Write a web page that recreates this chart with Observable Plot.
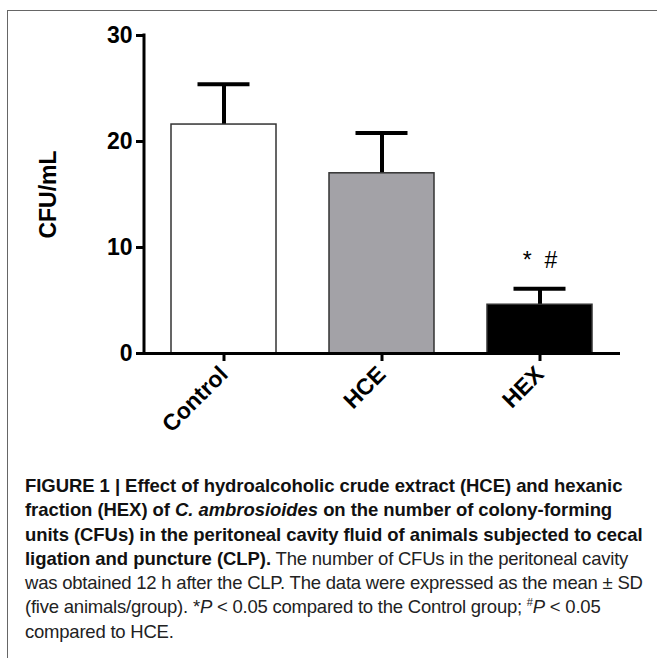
<!DOCTYPE html>
<html>
<head>
<meta charset="utf-8">
<script src="https://cdn.jsdelivr.net/npm/d3@7"></script>
<script src="https://cdn.jsdelivr.net/npm/@observablehq/plot@0.6"></script>
<style>
  html, body { margin: 0; padding: 0; background: #fff; }
  body { width: 657px; height: 658px; position: relative; overflow: hidden; font-family: "Liberation Sans", Arial, sans-serif; }
  #frame { position: absolute; left: 7px; top: 10px; right: -5px; bottom: -5px; border-left: 1.5px solid #666; border-top: 1.5px solid #666; }
  #chart { position: absolute; left: 0; top: 0; }
  #caption { position: absolute; left: 25px; top: 474px; font-size: 18.5px; line-height: 24.3px; color: #222; letter-spacing: -0.22px; }
  #caption div { white-space: nowrap; height: 24.3px; }
  #caption b { color: #111; letter-spacing: -0.06px; }
  #caption sup { font-size: 0.6em; line-height: 0; vertical-align: 0.6em; }
</style>
</head>
<body>
<div id="frame"></div>
<div id="chart"></div>
<div id="caption">
  <div><b>FIGURE 1 | Effect of hydroalcoholic crude extract (HCE) and hexanic</b></div>
  <div><b>fraction (HEX) of <i>C. ambrosioides</i> on the number of colony-forming</b></div>
  <div><b>units (CFUs) in the peritoneal cavity fluid of animals subjected to cecal</b></div>
  <div><b>ligation and puncture (CLP).</b> The number of CFUs in the peritoneal cavity</div>
  <div>was obtained 12 h after the CLP. The data were expressed as the mean ± SD</div>
  <div>(five animals/group). *<i>P</i> &lt; 0.05 compared to the Control group; <sup>#</sup><i>P</i> &lt; 0.05</div>
  <div>compared to HCE.</div>
</div>
<script>
const groups = ["Control", "HCE", "HEX"];
const means = [21.6, 17.0, 4.6];
const sds = [3.8, 3.8, 1.5];
const fills = ["#ffffff", "#a3a2a7", "#000000"];
const yTicks = [0, 10, 20, 30];
const yDomain = [0, 30];
const yLabel = "CFU/mL";
const sigGroups = ["HEX"];
const sigLabels = ["*  #"];

const data = groups.map((g, i) => ({group: g, mean: means[i], sd: sds[i], fill: fills[i]}));
const sig = sigGroups.map((g, i) => {
  const d = data.find(r => r.group === g);
  return {group: g, top: d.mean + d.sd, label: sigLabels[i]};
});

const yAxisLine = (index, scales, values, dims) => {
  const line = document.createElementNS("http://www.w3.org/2000/svg", "line");
  line.setAttribute("x1", dims.marginLeft);
  line.setAttribute("x2", dims.marginLeft);
  line.setAttribute("y1", scales.y(yDomain[1]) - 1.5);
  line.setAttribute("y2", scales.y(yDomain[0]) + 1.5);
  line.setAttribute("stroke", "black");
  line.setAttribute("stroke-width", 3);
  return line;
};

const chart = Plot.plot({
  width: 657,
  height: 440,
  marginLeft: 144,
  marginRight: 37,
  marginTop: 35,
  marginBottom: 87,
  style: {fontFamily: "'Liberation Sans', Arial, sans-serif", background: "transparent", color: "black"},
  x: {domain: groups, paddingInner: 0.333, paddingOuter: 0.164, label: null},
  y: {domain: yDomain, label: null},
  marks: [
    Plot.ruleX(data, {x: "group", y1: "mean", y2: d => d.mean + d.sd, strokeWidth: 4, stroke: "black"}),
    Plot.tickY(data, {x: "group", y: d => d.mean + d.sd, strokeWidth: 4, stroke: "black", insetLeft: 26.5, insetRight: 26.5}),
    Plot.barY(data, {x: "group", y: "mean", fill: "fill", stroke: "#333", strokeWidth: 1.5}),
    Plot.axisY({ticks: yTicks, tickSize: 8, tickPadding: 4, strokeWidth: 3, fontSize: 23, fontWeight: "bold", label: null, tickFormat: d => String(d)}),
    Plot.axisX({tickSize: 8, tickPadding: 9, strokeWidth: 3, tickRotate: -45, fontSize: 23, fontWeight: "bold", label: null}),
    Plot.ruleY([0], {strokeWidth: 3, stroke: "black"}),
    yAxisLine,
    Plot.text([yLabel], {frameAnchor: "left", textAnchor: "middle", dx: -96, rotate: -90, fontSize: 23, fontWeight: "bold", fill: "black"}),
    Plot.text(sig, {x: "group", y: "top", text: "label", dy: -28, fontSize: 23, fill: "black"})
  ]
});
document.getElementById("chart").appendChild(chart);
</script>
</body>
</html>
